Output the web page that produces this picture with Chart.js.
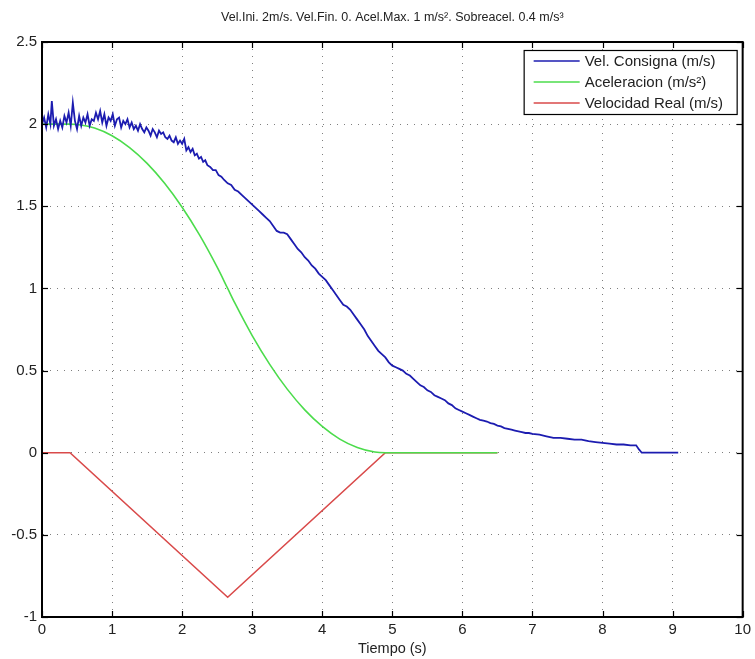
<!DOCTYPE html>
<html>
<head>
<meta charset="utf-8">
<script src="https://cdn.jsdelivr.net/npm/chart.js@4/dist/chart.umd.min.js"></script>
<style>
html,body{margin:0;padding:0;background:#fff;}
#wrap{width:755px;height:659px;position:relative;}
</style>
</head>
<body>
<div id="wrap"><canvas id="c" width="755" height="659"></canvas></div>
<script>
const titleText = "Vel.Ini. 2m/s. Vel.Fin. 0. Acel.Max. 1 m/s\u00B2. Sobreacel. 0.4 m/s\u00B3";
const xAxisTitle = "Tiempo (s)";
const xTicks = [0,1,2,3,4,5,6,7,8,9,10];
const yTicks = [-1,-0.5,0,0.5,1,1.5,2,2.5];
const seriesLabels = ["Vel. Consigna (m/s)", "Aceleracion (m/s\u00B2)", "Velocidad Real (m/s)"];

const blueT = [0.00,0.03,0.06,0.09,0.12,0.14,0.17,0.20,0.23,0.26,0.29,0.32,0.35,0.38,0.41,0.44,0.47,0.50,0.53,0.56,0.59,0.62,0.65,0.68,0.71,0.74,0.77,0.80,0.83,0.86,0.89,0.92,0.95,0.98,1.01,1.04,1.07,1.10,1.13,1.16,1.19,1.22,1.25,1.28,1.31,1.34,1.37,1.40,1.43,1.46,1.49,1.52,1.55,1.58,1.61,1.64,1.67,1.70,1.73,1.76,1.79,1.82,1.85,1.88,1.91,1.94,1.97,2.00,2.03,2.06,2.09,2.12,2.15,2.18,2.21,2.24,2.27,2.30,2.33,2.36,2.40,2.44,2.48,2.52,2.56,2.60,2.65,2.70,2.75,2.80,2.85,2.90,2.95,3.00,3.05,3.10,3.15,3.20,3.25,3.30,3.35,3.40,3.45,3.50,3.55,3.60,3.65,3.70,3.75,3.80,3.85,3.90,3.95,4.00,4.05,4.10,4.15,4.20,4.25,4.30,4.35,4.40,4.45,4.50,4.55,4.60,4.65,4.70,4.75,4.80,4.85,4.90,4.95,5.00,5.05,5.10,5.15,5.20,5.25,5.30,5.35,5.40,5.45,5.50,5.55,5.60,5.65,5.70,5.75,5.80,5.85,5.90,5.95,6.00,6.05,6.10,6.15,6.20,6.25,6.30,6.35,6.40,6.45,6.50,6.55,6.60,6.65,6.70,6.75,6.80,6.85,6.90,6.95,7.00,7.10,7.20,7.30,7.40,7.50,7.60,7.70,7.80,7.90,8.00,8.10,8.20,8.30,8.40,8.48,8.52,8.56,9.08];
const blueV = [2.00,2.04,1.98,2.06,2.00,2.14,1.99,2.03,1.97,2.02,1.98,2.05,2.01,2.07,1.99,2.13,2.02,1.97,2.05,1.99,2.04,2.01,2.06,1.99,2.03,2.02,2.07,2.03,2.08,2.01,2.06,1.99,2.04,2.02,2.06,1.99,2.03,2.04,1.98,2.02,2.00,2.03,1.98,2.01,1.97,1.99,1.96,2.00,1.97,1.95,1.98,1.96,1.93,1.97,1.95,1.92,1.96,1.94,1.95,1.92,1.91,1.93,1.90,1.89,1.92,1.88,1.90,1.88,1.91,1.84,1.86,1.83,1.85,1.81,1.82,1.79,1.80,1.77,1.78,1.75,1.74,1.72,1.72,1.69,1.68,1.66,1.64,1.63,1.60,1.59,1.57,1.55,1.53,1.51,1.49,1.47,1.45,1.43,1.41,1.38,1.35,1.34,1.34,1.33,1.30,1.27,1.24,1.22,1.19,1.17,1.14,1.12,1.09,1.07,1.05,1.02,0.99,0.96,0.93,0.90,0.89,0.87,0.84,0.81,0.78,0.75,0.71,0.68,0.65,0.62,0.60,0.58,0.55,0.53,0.52,0.51,0.50,0.48,0.47,0.45,0.43,0.41,0.40,0.38,0.37,0.35,0.34,0.33,0.32,0.30,0.29,0.27,0.26,0.25,0.24,0.23,0.22,0.21,0.20,0.195,0.19,0.18,0.175,0.165,0.16,0.15,0.145,0.14,0.135,0.13,0.125,0.12,0.12,0.115,0.11,0.10,0.09,0.09,0.085,0.08,0.08,0.07,0.065,0.06,0.055,0.05,0.05,0.045,0.045,0.02,0.0,0.0];

const greenT = [0,0.25,0.4,0.5,0.75,1,1.25,1.5,1.75,2,2.25,2.5,2.65,2.75,3,3.25,3.5,3.75,4,4.25,4.5,4.75,4.9,5.5,6.5];
const greenV = [2,2,2,1.998,1.976,1.929,1.857,1.761,1.640,1.494,1.324,1.129,1.0,0.913,0.713,0.538,0.387,0.261,0.160,0.083,0.032,0.004,0,0,0];

const redT = [0,0.4,2.65,4.9,6.5];
const redV = [0,0,-0.88,0,0];

const FONT = "'Liberation Sans', Arial, sans-serif";
const colors = ["#1c1cb0", "#4cdc4c", "#d94a4a"];

function pts(t,v){ return t.map((x,i)=>({x:x,y:v[i]})); }

const decorPlugin = {
  id:'decor',
  afterDraw(chart){
    const ctx = chart.ctx, a = chart.chartArea;
    const xs = chart.scales.x, ys = chart.scales.y;
    ctx.save();
    ctx.strokeStyle = '#000'; ctx.lineWidth = 1.2;
    const tl = 6;
    xTicks.forEach(v=>{
      const px = Math.round(xs.getPixelForValue(v))+0.5;
      ctx.beginPath(); ctx.moveTo(px,a.bottom); ctx.lineTo(px,a.bottom-tl); ctx.stroke();
      ctx.beginPath(); ctx.moveTo(px,a.top); ctx.lineTo(px,a.top+tl); ctx.stroke();
    });
    yTicks.forEach(v=>{
      const py = Math.round(ys.getPixelForValue(v))+0.5;
      ctx.beginPath(); ctx.moveTo(a.left,py); ctx.lineTo(a.left+tl,py); ctx.stroke();
      ctx.beginPath(); ctx.moveTo(a.right,py); ctx.lineTo(a.right-tl,py); ctx.stroke();
    });
    ctx.lineWidth = 2;
    ctx.strokeRect(a.left, a.top, a.right-a.left, a.bottom-a.top);
    ctx.fillStyle = '#222';
    ctx.font = "12.5px " + FONT;
    ctx.textAlign = 'center'; ctx.textBaseline = 'middle';
    ctx.fillText(titleText, (a.left+a.right)/2, 18);
    ctx.font = "14.5px " + FONT;
    ctx.fillText(xAxisTitle, (a.left+a.right)/2, 649);
    const lx = a.right - 219, ly = a.top + 8, lw = 213, lh = 64;
    ctx.fillStyle = '#fff';
    ctx.fillRect(lx, ly, lw, lh);
    ctx.strokeStyle = '#000'; ctx.lineWidth = 1.2;
    ctx.strokeRect(lx+0.5, ly+0.5, lw, lh);
    ctx.font = "15px " + FONT;
    ctx.textAlign = 'left';
    chart.data.datasets.forEach((ds,i)=>{
      const yy = ly + 11 + i*21;
      ctx.strokeStyle = ds.borderColor; ctx.lineWidth = 1.5;
      ctx.beginPath(); ctx.moveTo(lx+10, yy); ctx.lineTo(lx+56, yy); ctx.stroke();
      ctx.fillStyle = '#222';
      ctx.fillText(ds.label, lx+61, yy+1);
    });
    ctx.restore();
  }
};

new Chart(document.getElementById('c'), {
  type:'line',
  data:{
    datasets:[
      {label:seriesLabels[0], data:pts(blueT,blueV), borderColor:colors[0], borderWidth:1.8, pointRadius:0, tension:0},
      {label:seriesLabels[1], data:pts(greenT,greenV), borderColor:colors[1], borderWidth:1.6, pointRadius:0, cubicInterpolationMode:'monotone'},
      {label:seriesLabels[2], data:pts(redT,redV), borderColor:colors[2], borderWidth:1.6, pointRadius:0, tension:0}
    ]
  },
  options:{
    responsive:false, animation:false,
    layout:{padding:{left:0,right:10,top:42,bottom:0}},
    plugins:{legend:{display:false}, title:{display:false}, tooltip:{enabled:false}},
    scales:{
      x:{type:'linear', min:0, max:10,
        afterBuildTicks(s){ s.ticks = xTicks.map(v=>({value:v})); },
        afterFit(s){ s.height = 42; },
        ticks:{font:{family:FONT,size:15}, color:'#222', padding:4, maxRotation:0, callback:v=>String(v)},
        grid:{color:'rgba(0,0,0,0.5)', lineWidth:1, drawTicks:false},
        border:{display:true, color:'#000', width:2, dash:[1,6]}
      },
      y:{type:'linear', min:-1, max:2.5,
        afterBuildTicks(s){ s.ticks = yTicks.map(v=>({value:v})); },
        afterFit(s){ s.width = 42; },
        ticks:{font:{family:FONT,size:15}, color:'#222', padding:5, callback:v=>String(v)},
        grid:{color:'rgba(0,0,0,0.5)', lineWidth:1, drawTicks:false},
        border:{display:true, color:'#000', width:2, dash:[1,6]}
      }
    }
  },
  plugins:[decorPlugin]
});
</script>
</body>
</html>
